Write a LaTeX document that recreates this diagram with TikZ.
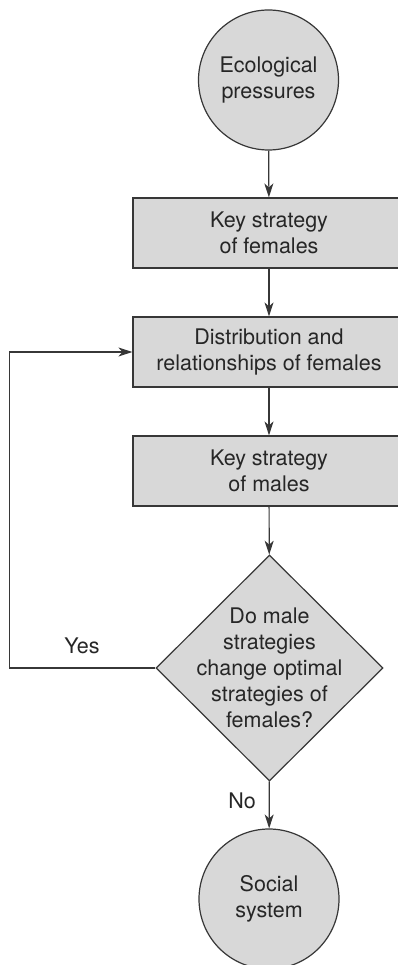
\documentclass[tikz,border=0pt]{standalone}
\usepackage{fontspec}
\setmainfont{TeX Gyre Heros}
\usetikzlibrary{shapes.geometric,arrows.meta}

\definecolor{boxgray}{RGB}{216,216,216}
\definecolor{linegray}{RGB}{55,55,55}

\tikzset{
    flow/.style={draw=linegray, fill=boxgray, line width=1.2pt, text=black!85,
        font=\fontsize{21.5}{26}\selectfont, align=center},
    endpoint/.style={flow, circle, minimum size=140pt, inner sep=0pt},
    stepbox/.style={flow, rectangle, minimum width=272pt, minimum height=70pt, inner sep=0pt},
    decision/.style={flow, diamond, minimum width=227pt, minimum height=226pt, inner sep=0pt},
    plaintext/.style={text=black!85, font=\fontsize{21.5}{26}\selectfont, align=center},
    arrow/.style={draw=linegray, line width=1.2pt, -{Stealth[length=14pt, width=9pt, inset=4pt]}}
}

\begin{document}
\begin{tikzpicture}[x=1pt, y=-1pt]
        \useasboundingbox (0,0) rectangle (398,965);
        \clip (0,0) rectangle (398,965);

        % Nodes
        \node (eco) [endpoint] at (268.5, 80) {Ecological\\pressures};
        \node (keyf) [stepbox] at (269, 233) {Key strategy\\of females};
        \node (dist) [stepbox] at (269, 352) {Distribution and\\relationships of females};
        \node (keym) [stepbox] at (269, 471) {Key strategy\\of males};
        \node (dec) [decision] at (269.5, 668) {};
        \node (dectext) [plaintext] at (dec.center) {Do male\\strategies\\change optimal\\strategies of\\females?};
        \node (soc) [endpoint] at (269, 899) {Social\\system};

        % Edges
        \draw[arrow] (eco) -- (keyf);
        \draw[arrow] (keyf) -- (dist);
        \draw[arrow] (dist) -- (keym);
        \draw[arrow] (keym) -- (dec);
        \draw[arrow] (dec.west) -- ++(-146,0) |- (dist.west);
        \draw[arrow] (dec) -- (soc);

        % Labels
        \node (yes) [plaintext] at (82, 646) {Yes};
        \node (no) [plaintext] at (242, 801) {No};

    \end{tikzpicture}
\end{document}
